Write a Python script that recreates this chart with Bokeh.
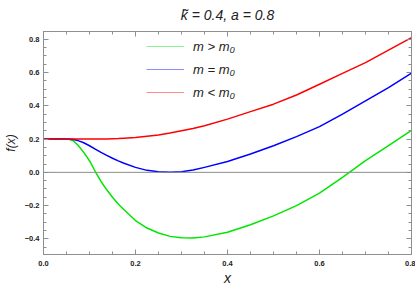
from bokeh.plotting import figure
from bokeh.models import (Range1d, LinearAxis, FixedTicker, Span, Legend, LegendItem,
                          CustomJSTickFormatter)
from bokeh.embed import file_html
from bokeh.resources import INLINE

# ---- data ----
x_vals = [0.0, 0.025, 0.05, 0.055, 0.065, 0.075, 0.0875, 0.1, 0.1125, 0.125, 0.1375, 0.15, 0.1625,
          0.175, 0.2, 0.225, 0.25, 0.275, 0.3, 0.325, 0.35, 0.4, 0.45, 0.5, 0.55, 0.6, 0.65,
          0.7, 0.75, 0.8]
f_green = [0.2, 0.2, 0.2, 0.199, 0.19, 0.163, 0.12, 0.07, 0.005, -0.055, -0.105, -0.15, -0.19,
           -0.225, -0.29, -0.335, -0.365, -0.385, -0.393, -0.395, -0.388, -0.36, -0.315, -0.262,
           -0.2, -0.125, -0.03, 0.07, 0.16, 0.252]
f_blue = [0.2, 0.2, 0.2, 0.2, 0.197, 0.191, 0.178, 0.16, 0.14, 0.12, 0.102, 0.085, 0.069,
          0.055, 0.03, 0.012, 0.003, 0.0, 0.004, 0.014, 0.03, 0.065, 0.11, 0.16, 0.215, 0.275,
          0.35, 0.43, 0.51, 0.597]
f_red = [0.2, 0.2, 0.2, 0.2, 0.2, 0.2, 0.2, 0.2, 0.2, 0.2, 0.201, 0.202, 0.203,
         0.205, 0.21, 0.217, 0.225, 0.236, 0.25, 0.264, 0.28, 0.32, 0.365, 0.41, 0.465, 0.53,
         0.595, 0.66, 0.735, 0.81]
series_labels = ["m > m\u2080", "m = m\u2080", "m < m\u2080"]
series_colors = ["#00e600", "#0000ff", "#ff0000"]
x_major = [0.0, 0.2, 0.4, 0.6, 0.8]
y_major = [-0.4, -0.2, 0.0, 0.2, 0.4, 0.6, 0.8]
x_minor = [i * 0.05 for i in range(0, 17)]
y_minor = [-0.5 + i * 0.05 for i in range(0, 28)]
title_text = "k\u0303 = 0.4, a = 0.8"

FONT = "Liberation Sans"
GRAY = "#8f8f8f"

p = figure(width=415, height=288, output_backend="svg", toolbar_location=None,
           x_range=Range1d(0, 0.8), y_range=Range1d(-0.494, 0.847),
           min_border_left=40, min_border_right=4, min_border_top=28, min_border_bottom=32)
p.background_fill_color = "white"
p.border_fill_color = "white"
p.outline_line_color = GRAY
p.xgrid.visible = False
p.ygrid.visible = False

p.title.text = title_text
p.title.align = "center"
p.title.vertical_align = "top"
p.title.text_font = FONT
p.title.text_font_style = "italic"
p.title.text_font_size = "14px"
p.title.text_color = "#222222"
p.title.standoff = 13

fmt = CustomJSTickFormatter(code="var s = tick.toFixed(1); if (Math.abs(tick) < 1e-9) { s = '0.0'; } return s.replace('-', '\u2212');")
blank = CustomJSTickFormatter(code="return '';")

def style_axis(ax, major, minor, labels=True):
    ax.ticker = FixedTicker(ticks=major, minor_ticks=minor)
    ax.axis_line_color = GRAY
    ax.major_tick_line_color = GRAY
    ax.minor_tick_line_color = GRAY
    ax.major_tick_in = 5
    ax.major_tick_out = 0
    ax.minor_tick_in = 3
    ax.minor_tick_out = 0
    ax.major_label_text_font = FONT
    ax.major_label_text_font_style = "bold"
    ax.major_label_text_font_size = "7.5px"
    ax.major_label_text_color = "#222222"
    ax.major_label_standoff = 4
    if labels:
        ax.formatter = fmt
    else:
        ax.formatter = blank
        ax.major_label_text_font_size = "0px"
        ax.major_label_standoff = 0

style_axis(p.xaxis[0], x_major, x_minor)
style_axis(p.yaxis[0], y_major, y_minor)
p.xaxis[0].major_label_standoff = 6
p.xaxis[0].axis_label = "x"
p.yaxis[0].axis_label = "f(x)"
for ax in (p.xaxis[0], p.yaxis[0]):
    ax.axis_label_text_font = FONT
    ax.axis_label_text_font_style = "italic"
    ax.axis_label_text_color = "#222222"
p.xaxis[0].axis_label_text_font_size = "14px"
p.yaxis[0].axis_label_text_font_size = "12px"
p.xaxis[0].axis_label_standoff = 1
p.yaxis[0].axis_label_standoff = 4

top_ax = LinearAxis()
right_ax = LinearAxis()
style_axis(top_ax, x_major, x_minor, labels=False)
style_axis(right_ax, y_major, y_minor, labels=False)
p.add_layout(top_ax, "above")
p.add_layout(right_ax, "right")

p.add_layout(Span(location=0, dimension="width", line_color="#8c8c8c", line_width=1))

ys = [f_green, f_blue, f_red]
for yv, c in zip(ys, series_colors):
    p.line(x_vals, yv, line_color=c, line_width=1.5, line_join="round")

items = []
for lab, c in zip(series_labels, series_colors):
    r = p.line([-1.0, -0.9], [0.0, 0.0], line_color=c, line_width=1, line_alpha=0.45)
    items.append(LegendItem(label=lab, renderers=[r]))

legend = Legend(items=items, location=(103, 153), border_line_color=None,
                background_fill_alpha=0, glyph_width=38, glyph_height=18,
                label_height=18, label_standoff=9, spacing=5, padding=0, margin=0,
                label_text_font=FONT, label_text_font_style="italic",
                label_text_font_size="13px", label_text_color="#222222")
p.add_layout(legend)

open("out.html", "w").write(file_html(p, INLINE))
